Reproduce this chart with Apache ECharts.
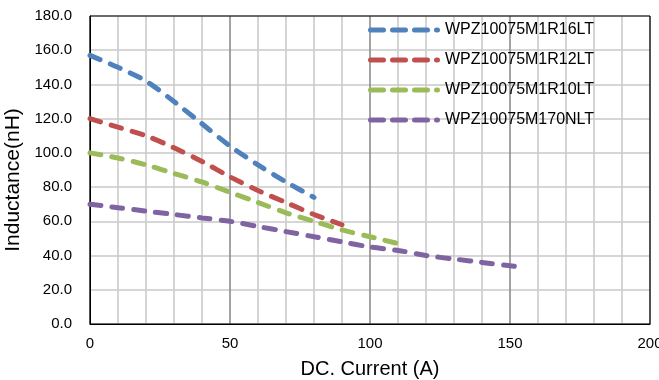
<!DOCTYPE html>
<html><head><meta charset="utf-8">
<script src="https://cdn.jsdelivr.net/npm/echarts@6/dist/echarts.min.js"></script>
<style>html,body{margin:0;padding:0;background:#fff}#c{width:659px;height:380px}</style>
</head><body><div id="c"></div>
<script>
var seriesNames = ['WPZ10075M1R16LT','WPZ10075M1R12LT','WPZ10075M1R10LT','WPZ10075M170NLT'];
var currentBlue = [0,10,20,30,40,50,60,70,80];
var valuesBlue = [157,150,142,130,117,104,93,83,74];
var currentRed = [0,10,20,30,40,50,60,70,80,90];
var valuesRed = [120,115,110,103,95,86,78,71,64,58];
var currentGreen = [0,10,20,30,40,50,60,70,80,90,100,110];
var valuesGreen = [100,97,93,88,83,77,71,65,60,55,51,47];
var currentPurple = [0,10,20,30,40,50,60,70,80,90,100,110,120,130,140,150,155];
var valuesPurple = [70,68,66,64,62,60,57,54,51,48,45,43,40,38,36,34,33];
var colors = ['#4F81BD','#C0504D','#9BBB59','#8064A2'];

function pairs(xs, ys){ return xs.map(function(x,i){return [x, ys[i]];}); }
var allData = [pairs(currentBlue,valuesBlue), pairs(currentRed,valuesRed), pairs(currentGreen,valuesGreen), pairs(currentPurple,valuesPurple)];

function capsule(x0, x1){
  return 'M' + (x0+2.5) + ',0 H' + (x1-2.5) + ' A2.5,2.5 0 0 1 ' + (x1-2.5) + ',5 H' + (x0+2.5) + ' A2.5,2.5 0 0 1 ' + (x0+2.5) + ',0 Z';
}
var legendIcon = 'path://' + capsule(0,18) + ' ' + capsule(22,40) + ' ' + capsule(44,62) + ' ' + capsule(66,72);

var chart = echarts.init(document.getElementById('c'));
var font = 'Liberation Sans, Arial, sans-serif';
chart.setOption({
  animation: false,
  textStyle: {fontFamily: font},
  color: colors,
  grid: {left: 90, right: 9, top: 16, bottom: 56, containLabel: false, outerBoundsMode: 'none'},
  legend: {
    orient: 'vertical', left: 363, top: 16,
    icon: legendIcon,
    itemWidth: 72, itemHeight: 5, itemGap: 12,
    textStyle: {fontFamily: font, fontSize: 16, color: '#000', lineHeight: 18},
    data: seriesNames
  },
  xAxis: {
    type: 'value', min: 0, max: 200, interval: 50,
    name: 'DC. Current (A)', nameLocation: 'middle', nameGap: 35,
    nameTextStyle: {fontSize: 20, color: '#000', fontFamily: font},
    axisLine: {show: true, lineStyle: {color: '#000', width: 1}},
    axisTick: {show: false},
    axisLabel: {fontSize: 15, color: '#000', margin: 12},
    splitLine: {show: true, lineStyle: {color: '#868686', width: 1.5}},
    minorTick: {show: false, splitNumber: 5},
    minorSplitLine: {show: true, lineStyle: {color: '#C8C8C8', width: 1.5}}
  },
  yAxis: {
    type: 'value', min: 0, max: 180, interval: 20,
    name: 'Inductance(nH)', nameLocation: 'middle', nameGap: 58,
    nameTextStyle: {fontSize: 21, color: '#000', fontFamily: font, padding: [0, 20, 0, 0]},
    axisLine: {show: true, lineStyle: {color: '#000', width: 1}},
    axisTick: {show: false},
    axisLabel: {fontSize: 15, color: '#000', margin: 18, formatter: function(v){return v.toFixed(1);}},
    splitLine: {show: true, lineStyle: {color: '#C8C8C8', width: 1.5}}
  },
  series: seriesNames.map(function(n, i){
    return {
      name: n, type: 'line', data: allData[i], smooth: 0.3,
      symbol: 'none', showSymbol: false,
      lineStyle: {color: colors[i], width: 5, type: [11, 11], cap: 'round'},
      itemStyle: {color: colors[i]}
    };
  }).concat([{
    type: 'line', data: [], silent: true,
    markArea: {silent: true, itemStyle: {color: 'transparent', borderColor: '#000', borderWidth: 1},
      data: [[{coord: [0, 0]}, {coord: [200, 180]}]]}
  }])
});
</script></body></html>
